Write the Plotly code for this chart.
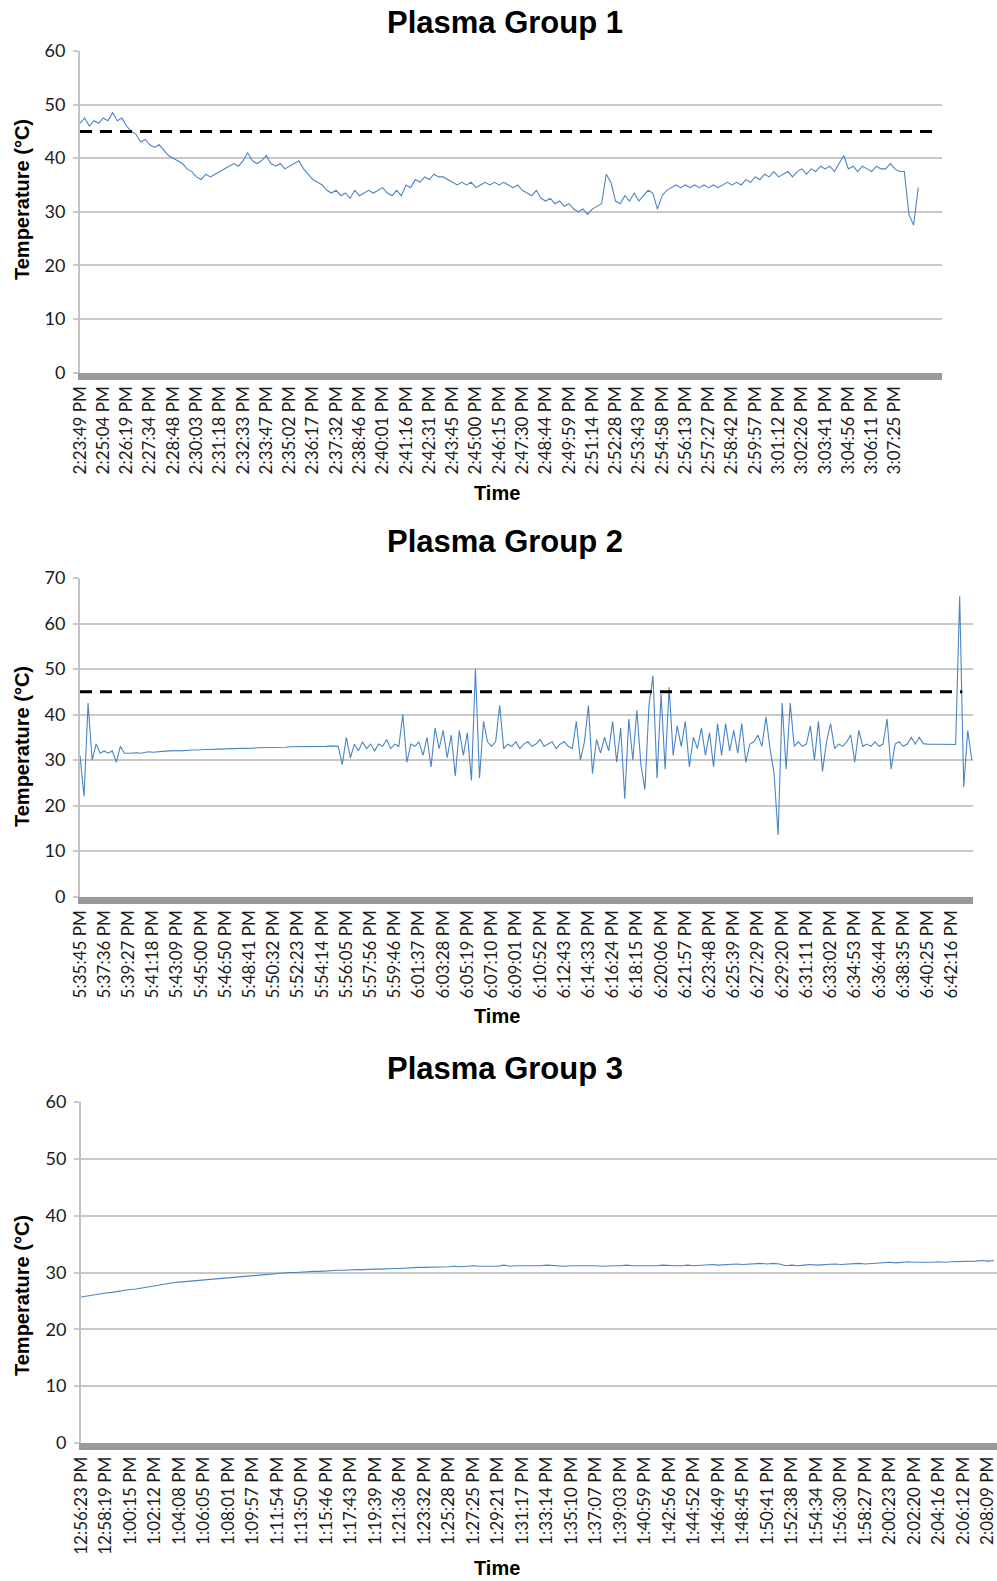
import plotly.graph_objects as go

# ---------------- data ----------------
threshold_c = 45

g1_ticks = ["2:23:49 PM", "2:25:04 PM", "2:26:19 PM", "2:27:34 PM", "2:28:48 PM", "2:30:03 PM",
            "2:31:18 PM", "2:32:33 PM", "2:33:47 PM", "2:35:02 PM", "2:36:17 PM", "2:37:32 PM",
            "2:38:46 PM", "2:40:01 PM", "2:41:16 PM", "2:42:31 PM", "2:43:45 PM", "2:45:00 PM",
            "2:46:15 PM", "2:47:30 PM", "2:48:44 PM", "2:49:59 PM", "2:51:14 PM", "2:52:28 PM",
            "2:53:43 PM", "2:54:58 PM", "2:56:13 PM", "2:57:27 PM", "2:58:42 PM", "2:59:57 PM",
            "3:01:12 PM", "3:02:26 PM", "3:03:41 PM", "3:04:56 PM", "3:06:11 PM", "3:07:25 PM"]
g1_points_per_label = 5
g1_temp = [46.5, 47.5, 46, 47, 46.5, 47.5, 47,
           48.5, 47, 47.5,
           46, 45, 44.5, 43,
           43.5, 42.5, 42, 42.5, 41.5, 40.5, 40,
           39.5, 39, 38, 37.5,
           36.5, 36, 37, 36.5, 37, 37.5,
           38, 38.5, 39, 38.5, 39.5, 41,
           39.5, 39, 39.5, 40.5, 39, 38.5,
           39, 38, 38.5, 39, 39.5,
           38, 37, 36, 35.5, 35,
           34, 33.5, 34, 33, 33.5, 32.5, 34, 33,
           33.5, 34, 33.5, 34, 34.5, 33.5, 33, 34,
           33, 35, 34.5, 36, 35.5, 36.5, 36,
           37, 36.5, 36.5, 36, 35.5, 35, 35.5, 35,
           35.5, 34.5, 35, 35.5, 35,
           35.5, 35, 35.5, 35, 34.5, 35, 34,
           33.5, 33, 34, 32.5, 32,
           32.5, 31.5, 32, 31, 31.5, 30.5,
           30, 30.5, 29.5, 30.5, 31, 31.5,
           37,
           35.5, 32, 31.5,
           33, 32, 33.5, 32, 33, 34,
           33.5, 30.5, 33, 34, 34.5,
           35, 34.5, 35, 34.5, 35, 34.5, 35, 34.5,
           35, 34.5, 35, 35.5, 35, 35.5, 35, 36,
           35.5, 36.5, 36, 37, 36.5, 37.5, 36.5, 37,
           37.5, 36.5, 37.5, 38, 37, 38, 37.5, 38.5,
           38, 38.5, 37.5, 39, 40.5, 38, 38.5,
           37.5, 38.5, 38, 37.5, 38.5, 38, 38,
           39, 38, 37.5, 37.5,
           29.5, 27.5, 34.5]

g2_ticks = ["5:35:45 PM", "5:37:36 PM", "5:39:27 PM", "5:41:18 PM", "5:43:09 PM", "5:45:00 PM",
            "5:46:50 PM", "5:48:41 PM", "5:50:32 PM", "5:52:23 PM", "5:54:14 PM", "5:56:05 PM",
            "5:57:56 PM", "5:59:46 PM", "6:01:37 PM", "6:03:28 PM", "6:05:19 PM", "6:07:10 PM",
            "6:09:01 PM", "6:10:52 PM", "6:12:43 PM", "6:14:33 PM", "6:16:24 PM", "6:18:15 PM",
            "6:20:06 PM", "6:21:57 PM", "6:23:48 PM", "6:25:39 PM", "6:27:29 PM", "6:29:20 PM",
            "6:31:11 PM", "6:33:02 PM", "6:34:53 PM", "6:36:44 PM", "6:38:35 PM", "6:40:25 PM",
            "6:42:16 PM"]
g2_points_per_label = 6
g2_temp = [31, 22, 42.5, 30, 33.5, 31.5, 32, 31.5, 32, 29.5, 33, 31.5,
           31.5, 31.6, 31.6, 31.5, 31.7, 31.8, 31.7, 31.8, 31.9, 31.9,
           32.0, 32.0, 32.1, 32.0, 32.1, 32.2, 32.2, 32.2, 32.3, 32.3,
           32.3, 32.4, 32.4, 32.4, 32.5, 32.5, 32.5, 32.5, 32.6, 32.6,
           32.6, 32.6, 32.7, 32.7, 32.7, 32.7, 32.8, 32.8, 32.8, 32.8,
           32.9, 32.9, 32.9, 32.9, 33.0, 33.0, 33.0, 33.0, 33.0, 33.0,
           33.1, 33.0, 33.0,
           29, 35, 30.5, 33.5, 32, 34, 32.5, 33.5, 32, 33.5, 33, 34.5, 32.5, 33.5, 33,
           40, 29.5, 33.5, 33, 34, 31, 35, 28.5, 37, 32.5, 36.5, 30.5, 35.5, 26.5,
           36.5, 31, 36, 25.5, 50, 26, 38.5, 34, 33, 34, 42, 32.5, 33.5,
           33, 34, 32.5, 33.5, 34, 33, 33.5, 34.5, 33, 33.5, 34, 32.5, 33.5, 34, 33,
           32.5, 38.5, 30, 34, 42, 27, 34.5, 31.5, 35, 32,
           38.5, 29.5, 37, 21.5, 39, 30, 41, 29, 23.5, 42,
           48.5, 26, 44.5, 28, 46, 31, 37.5, 33, 38.5, 28.5,
           35, 32.5, 37, 31, 36, 28.5, 38, 31, 38, 32,
           36.5, 31.5, 38, 29.5, 33.5, 34, 35.5, 33, 39.5, 32.5,
           27, 13.5, 42.5, 28, 42.5,
           33, 34, 33, 33.5, 37.5, 30, 38.5, 27.5, 34, 38,
           32.5, 33.5, 33, 34, 35.5, 29.5, 36.5, 33, 33.5, 33,
           34, 33, 33.5, 39, 28, 33.5, 34, 33, 33.5, 35,
           33.5, 35,
           33.6, 33.5, 33.5, 33.4, 33.5, 33.5, 33.4, 33.5, 33.4,
           66, 24, 36.5, 30]

g3_ticks = ["12:56:23 PM", "12:58:19 PM", "1:00:15 PM", "1:02:12 PM", "1:04:08 PM", "1:06:05 PM",
            "1:08:01 PM", "1:09:57 PM", "1:11:54 PM", "1:13:50 PM", "1:15:46 PM", "1:17:43 PM",
            "1:19:39 PM", "1:21:36 PM", "1:23:32 PM", "1:25:28 PM", "1:27:25 PM", "1:29:21 PM",
            "1:31:17 PM", "1:33:14 PM", "1:35:10 PM", "1:37:07 PM", "1:39:03 PM", "1:40:59 PM",
            "1:42:56 PM", "1:44:52 PM", "1:46:49 PM", "1:48:45 PM", "1:50:41 PM", "1:52:38 PM",
            "1:54:34 PM", "1:56:30 PM", "1:58:27 PM", "2:00:23 PM", "2:02:20 PM", "2:04:16 PM",
            "2:06:12 PM", "2:08:09 PM"]
g3_points_per_label = 4
g3_temp = [25.7, 25.9, 26.0, 26.2, 26.4, 26.5, 26.7, 26.8, 27.0, 27.1,
           27.3, 27.5, 27.7, 27.9, 28.0, 28.2, 28.3, 28.4, 28.5, 28.6,
           28.7, 28.8, 28.9, 29.0, 29.1, 29.2, 29.3, 29.4, 29.5, 29.6,
           29.7, 29.8, 29.8, 29.9, 30.0, 30.0, 30.1, 30.1, 30.2, 30.2,
           30.3, 30.3, 30.4, 30.4, 30.5, 30.5, 30.5, 30.6, 30.6, 30.6,
           30.7, 30.7, 30.7, 30.8, 30.8, 30.9, 30.9, 30.9, 31.0, 31.0,
           31.0,
           31.1, 31.0, 31.1, 31.2, 31.1, 31.1, 31.2, 31.1, 31.3, 31.1, 31.2, 31.2, 31.1, 31.2, 31.2,
           31.3, 31.2, 31.2, 31.1, 31.2, 31.2, 31.3, 31.2, 31.2, 31.1, 31.2, 31.2, 31.2, 31.3, 31.2,
           31.2, 31.1, 31.2, 31.2, 31.3, 31.2, 31.2, 31.2, 31.3, 31.2, 31.3, 31.3, 31.4, 31.3, 31.4,
           31.4, 31.5, 31.4, 31.5, 31.5, 31.6, 31.5, 31.6, 31.5, 31.2, 31.3, 31.2, 31.3, 31.4, 31.3,
           31.4, 31.4, 31.5, 31.4, 31.5, 31.5, 31.6, 31.5, 31.6, 31.6, 31.7, 31.8, 31.7, 31.8, 31.9,
           31.8, 31.8, 31.7, 31.8, 31.9, 31.8, 31.9, 31.9, 32.0, 31.9, 32.0, 32.1, 32.0, 32.1]

# ---------------- layout helpers ----------------
W, H = 997, 1581
LINE_BLUE = "#4a85c6"
GRID = "#c9c9c9"
TICK_FONT = dict(family="Lato, Open Sans, sans-serif", size=17, color="#1a1a1a")
YTICK_FONT = dict(family="Lato, Open Sans, sans-serif", size=18, color="#1a1a1a")
TITLE_FONT = dict(family="Liberation Sans, Arial, sans-serif", size=31, color="#000000")
AXT_FONT = dict(family="Liberation Sans, Arial, sans-serif", size=20, color="#000000")


def fx(px):
    return px / W


def fy(py):
    return 1 - py / H


panels = [
    dict(temp=g1_temp, ticks=g1_ticks, ppl=g1_points_per_label, xl=80, xr=942, yt=51, yb=372.5,
         ymax=60, xend=185.1, dash_end=0.992, title="Plasma Group 1", ty=23, timey=493, tempy=200),
    dict(temp=g2_temp, ticks=g2_ticks, ppl=g2_points_per_label, xl=80, xr=973, yt=578, yb=896.5,
         ymax=70, xend=221.3, dash_end=0.988, title="Plasma Group 2", ty=541, timey=1016, tempy=747),
    dict(temp=g3_temp, ticks=g3_ticks, ppl=g3_points_per_label, xl=81, xr=997, yt=1102, yb=1443,
         ymax=60, xend=149.5, dash_end=None, title="Plasma Group 3", ty=1068, timey=1568, tempy=1296),
]

fig = go.Figure()
layout = dict(width=W, height=H, margin=dict(l=0, r=0, t=0, b=0, pad=0, autoexpand=False),
              paper_bgcolor="white", plot_bgcolor="white", showlegend=False)
annotations = []
shapes = []

for k, p in enumerate(panels, start=1):
    sfx = "" if k == 1 else str(k)
    xa, ya = "x" + sfx, "y" + sfx
    n = len(p["temp"])
    fig.add_trace(go.Scatter(x=list(range(n)), y=p["temp"], mode="lines",
                             line=dict(color=LINE_BLUE, width=1.1),
                             xaxis=xa, yaxis=ya, hoverinfo="skip"))
    layout["xaxis" + sfx] = dict(
        domain=[fx(p["xl"]), fx(p["xr"])], anchor=ya, range=[0, p["xend"]],
        tickmode="array", tickvals=[i * p["ppl"] for i in range(len(p["ticks"]))],
        ticktext=p["ticks"], tickangle=-90, tickfont=TICK_FONT, automargin=False,
        ticklabeloverflow="allow",
        showgrid=False, zeroline=False, showline=True, linecolor="#9a9a9a", linewidth=7,
        ticks="", fixedrange=True)
    layout["yaxis" + sfx] = dict(
        domain=[fy(p["yb"]), fy(p["yt"])], anchor=xa, range=[0, p["ymax"]], automargin=False,
        dtick=10, tick0=0, tickfont=YTICK_FONT, showgrid=True, gridcolor=GRID, gridwidth=2,
        zeroline=False, showline=True, linecolor="#c3c3c3", linewidth=2,
        ticks="outside", ticklen=5, tickcolor=GRID, tickwidth=2, ticklabelstandoff=4,
        fixedrange=True)
    if p["dash_end"] is not None:
        shapes.append(dict(type="line", xref=xa + " domain", yref=ya, x0=0, x1=p["dash_end"],
                           y0=threshold_c, y1=threshold_c,
                           line=dict(color="black", width=3, dash="12px,8px")))
    annotations.append(dict(text="<b>%s</b>" % p["title"], xref="paper", yref="paper",
                            x=fx(505), y=fy(p["ty"]), xanchor="center", yanchor="middle",
                            showarrow=False, font=TITLE_FONT))
    annotations.append(dict(text="<b>Time</b>", xref="paper", yref="paper",
                            x=fx(497), y=fy(p["timey"]), xanchor="center", yanchor="middle",
                            showarrow=False, font=AXT_FONT))
    annotations.append(dict(text="<b>Temperature (°C)</b>", xref="paper", yref="paper",
                            x=fx(22), y=fy(p["tempy"]), xanchor="center", yanchor="middle",
                            textangle=-90, showarrow=False, font=AXT_FONT))

layout["annotations"] = annotations
layout["shapes"] = shapes
fig.update_layout(**layout)
fig.write_html("out.html", config={"responsive": False, "displayModeBar": False},
               post_script="document.body.style.margin='0';document.body.style.padding='0';"
                           "document.body.style.overflow='hidden';")
